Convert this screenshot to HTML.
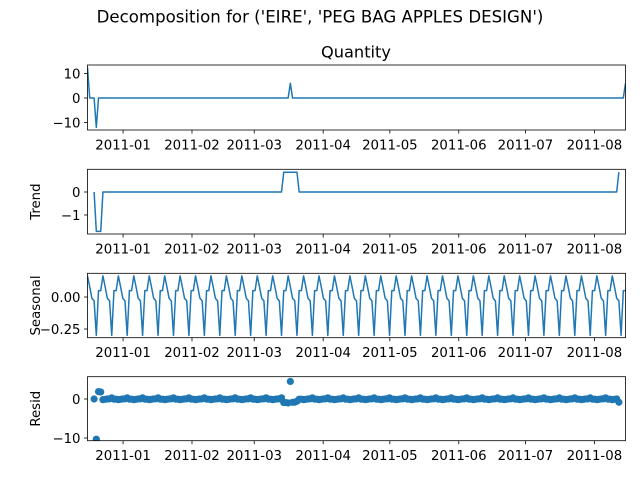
<!DOCTYPE html>
<html><head><meta charset="utf-8"><style>
body{margin:0;background:#fff}
svg{display:block;font-family:"DejaVu Sans","Liberation Sans",sans-serif}
</style></head><body>
<svg id="c" width="640" height="480" viewBox="0 0 640 480">
<text x="320" y="22.5" text-anchor="middle" font-size="16.6">Decomposition for ('EIRE', 'PEG BAG APPLES DESIGN')</text>
<text x="356" y="57.5" text-anchor="middle" font-size="16.2">Quantity</text>
</svg>
<script>
// ---- data ----
const startDate = "2010-12-16", endDate = "2011-08-15";
const nPts = 245;
const observedEvents = [[0, 12.5], [4, -12], [92, 6], [244, 6]]; // [pointIndex, value], baseline 0
const trendFirst = 3, trendLast = 241;
const trendEvents = [[4, -1.71], [5, -1.71], [6, -1.71], [89, 0.86], [90, 0.86], [91, 0.86], [92, 0.86], [93, 0.86], [94, 0.86], [95, 0.86], [241, 0.86]];
const seasonalPattern = [0.165, 0.08, -0.01, -0.03, -0.30, 0.05, 0.05];
const residOverrides = [[3, 0], [4, -10.3], [5, 1.9], [6, 1.8], [92, 4.5]];
const monthTicks = ["2011-01-01","2011-02-01","2011-03-01","2011-04-01","2011-05-01","2011-06-01","2011-07-01","2011-08-01"];
const monthLabels = ["2011-01","2011-02","2011-03","2011-04","2011-05","2011-06","2011-07","2011-08"];
const obsTicks = [10, 0, -10], obsTickLabels = ["10","0","\u221210"];
const trendTicks = [0, -1], trendTickLabels = ["0","\u22121"];
const seasTicks = [0, -0.25], seasTickLabels = ["0.00","\u22120.25"];
const residTicks = [0, -10], residTickLabels = ["0","\u221210"];

// ---- build series ----
const observed = [], trend = [], seasonal = [], resid = [];
for (let i = 0; i < nPts; i++) { observed.push(0); seasonal.push(seasonalPattern[i % 7]); trend.push(i >= trendFirst && i <= trendLast ? 0 : null); }
observedEvents.forEach(e => observed[e[0]] = e[1]);
trendEvents.forEach(e => trend[e[0]] = e[1]);
for (let i = 0; i < nPts; i++) resid.push(trend[i] === null ? null : observed[i] - trend[i] - seasonal[i]);
residOverrides.forEach(e => resid[e[0]] = e[1]);

// ---- axes ----
const NS = "http://www.w3.org/2000/svg";
const svg = document.getElementById("c");
const L = 87.5, R = 625.5;
const t0 = Date.parse(startDate + "T00:00:00Z"), t1 = Date.parse(endDate + "T00:00:00Z");
const x = i => L + i * (R - L) / (nPts - 1);
const xDate = s => L + (Date.parse(s + "T00:00:00Z") - t0) / (t1 - t0) * (R - L);
const C = "#1f77b4";
const FS = 13.3;
function el(tag, attrs, parent) { const e = document.createElementNS(NS, tag); for (const k in attrs) e.setAttribute(k, attrs[k]); (parent || svg).appendChild(e); return e; }

const panels = [
 {name:"observed", top:65, bot:130, y0:98, k:2.45, ticks:obsTicks, labels:obsTickLabels, data:observed, kind:"line", ylabel:null},
 {name:"trend", top:169.3, bot:234, y0:192, k:23, ticks:trendTicks, labels:trendTickLabels, data:trend, kind:"line", ylabel:"Trend"},
 {name:"seasonal", top:273.3, bot:337.7, y0:297, k:128, ticks:seasTicks, labels:seasTickLabels, data:seasonal, kind:"line", ylabel:"Seasonal"},
 {name:"resid", top:376.7, bot:440.7, y0:399, k:3.9, ticks:residTicks, labels:residTickLabels, data:resid, kind:"dots", ylabel:"Resid"}
];
panels.forEach(p => {
  const g = el("g", {});
  
  
  const y = v => p.y0 - v * p.k;
  const clipId = "clip-" + p.name;
  const cp = el("clipPath", {id: clipId}, g);
  el("rect", {x: L, y: p.top, width: R - L, height: p.bot - p.top}, cp);
  const dg = el("g", {"clip-path": "url(#" + clipId + ")"}, g);
  if (p.kind === "line") {
    let d = "", pen = false;
    p.data.forEach((v, i) => { if (v === null) { pen = false; return; } d += (pen ? "L" : "M") + x(i).toFixed(2) + " " + y(v).toFixed(2); pen = true; });
    const path = el("path", {d: d, fill: "none", stroke: C, "stroke-width": 1.5, "stroke-linejoin": "round"}, dg);
    
    
  } else {
    p.data.forEach((v, i) => { if (v === null) return;
      const c = el("circle", {cx: x(i), cy: y(v), r: 3.6, fill: C}, dg);
      
      
    });
  }
  const frame = el("rect", {x: L, y: p.top, width: R - L, height: p.bot - p.top, fill: "none", stroke: "#000", "stroke-width": 0.8}, g);
  
  
  p.ticks.forEach((t, j) => {
    el("line", {x1: L - 3.5, x2: L, y1: y(t), y2: y(t), stroke: "#000", "stroke-width": 0.8}, g);
    const tx = el("text", {x: L - 7, y: y(t) + 4.8, "text-anchor": "end", "font-size": FS}, g);
    tx.textContent = p.labels[j];
    
    
  });
  monthTicks.forEach((m, j) => {
    const xx = xDate(m);
    el("line", {x1: xx, x2: xx, y1: p.bot, y2: p.bot + 3.5, stroke: "#000", "stroke-width": 0.8}, g);
    const tx = el("text", {x: xx, y: p.bot + 19.5, "text-anchor": "middle", "font-size": FS}, g);
    tx.textContent = monthLabels[j];
    
    
  });
  if (p.ylabel) {
    const cy = (p.top + p.bot) / 2;
    const tx = el("text", {x: 0, y: 0, transform: "translate(40," + cy + ") rotate(-90)", "text-anchor": "middle", "font-size": FS}, g);
    tx.textContent = p.ylabel;
    
    
  }
});
</script>
</body></html>
